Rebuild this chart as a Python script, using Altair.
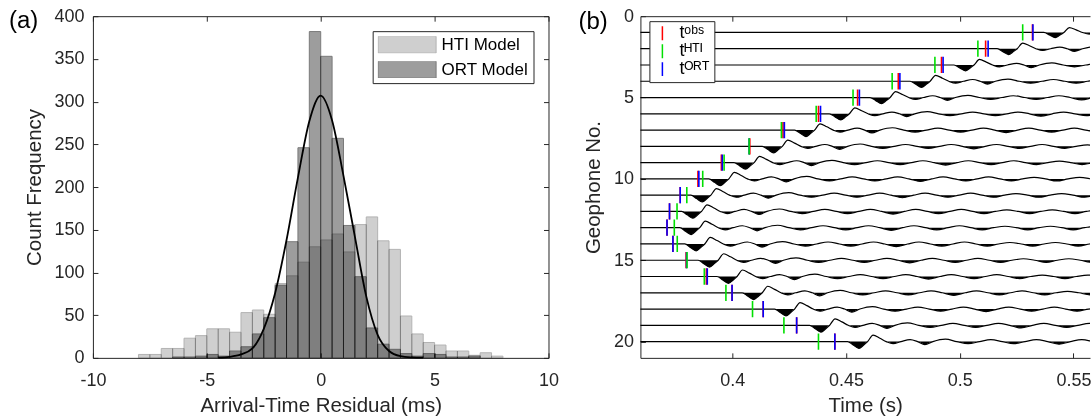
import altair as alt
import pandas as pd

# ---------------- panel (a): histogram data ----------------
bin_start = [-8.5, -8.0, -7.5, -7.0, -6.5, -6.0, -5.5, -5.0, -4.5, -4.0, -3.5,
             -3.0, -2.5, -2.0, -1.5, -1.0, -0.5, 0.0, 0.5, 1.0, 1.5, 2.0, 2.5,
             3.0, 3.5, 4.0, 4.5, 5.0, 5.5, 6.0, 6.5, 7.0, 7.5]
bin_width = 0.5
hti_counts = [0, 4, 4, 11, 11, 23, 26, 34, 34, 30, 53,
              56, 51, 87, 96, 112, 130, 138, 145, 124, 156, 165, 137,
              127, 49, 28, 18, 15, 8, 8, 3, 6, 2]
ort_counts = [0, 0, 0, 0, 1, 1, 2, 4, 2, 8, 13,
              28, 47, 85, 136, 246, 382, 353, 257, 155, 95, 35, 16,
              10, 5, 2, 5, 4, 1, 1, 2, 0, 0]
model_names = ["HTI Model", "ORT Model"]

# fitted normal curve
fit_x = [-4.5, -4.0, -3.5, -3.0, -2.5, -2.0, -1.5, -1.0, -0.5, 0.0,
         0.5, 1.0, 1.5, 2.0, 2.5, 3.0, 3.5, 4.0, 4.5]
fit_y = [0.3, 1.2, 4, 11, 34, 76, 138, 211, 277, 307,
         278, 213, 142, 72, 27, 8, 2, 0.6, 0.2]

# ---------------- panel (b): seismogram data ----------------
geophones = list(range(1, 21))
trough_time = [0.5420, 0.5215, 0.5025, 0.4832, 0.4656, 0.4477, 0.4324, 0.4182,
               0.4058, 0.3947, 0.3868, 0.3827, 0.3819, 0.3841, 0.3900, 0.3983,
               0.4094, 0.4236, 0.4390, 0.4557]
trace_amp = [0.75, 0.85, 0.85, 0.9, 0.9, 0.9, 0.95, 0.95, 0.95, 1.0,
             1.0, 1.0, 1.0, 1.0, 1.0, 1.0, 1.0, 1.0, 1.0, 1.0]
# wavelet shape relative to its trough (time offset s, downward deflection in trace units)
wavelet_dt = [-0.0050, -0.0025, 0.0, 0.0021, 0.0038, 0.0062, 0.0092, 0.0120,
              0.0150, 0.0185, 0.0225, 0.0258, 0.0290, 0.0325, 0.0380, 0.0430,
              0.0480, 0.0530, 0.0580, 0.0630, 0.0680, 0.0730, 0.0780, 0.0830,
              0.0880, 0.0930, 0.0980, 0.1030, 0.1080, 0.1130, 0.1180, 0.1230,
              0.1280, 0.1330, 0.1380, 0.1430, 0.1480, 0.1530, 0.1580, 0.1630,
              0.1680, 0.1730, 0.1780, 0.1830]
wavelet_amp = [0, 0.21, 0.42, 0.21, 0, -0.40, -0.21, 0,
               0.13, 0, -0.12, 0, 0.19, 0, -0.15, 0,
               0.13, 0, -0.12, 0, 0.13, 0, -0.12, 0,
               0.16, 0, -0.12, 0, 0.13, 0, -0.12, 0,
               0.13, 0, -0.09, 0, 0.13, 0, -0.09, 0,
               0.13, 0, -0.09, 0]
t_obs = [0.5320, 0.5114, 0.4920, 0.4730, 0.4551, 0.4379, 0.4223, 0.4077,
         0.3952, 0.3849, 0.3771, 0.3724, 0.3713, 0.3739, 0.3797, 0.3886,
         0.3999, 0.4136, 0.4283, 0.4451]
t_hti = [0.5277, 0.5080, 0.4891, 0.4703, 0.4531, 0.4369, 0.4216, 0.4074,
         0.3964, 0.3870, 0.3800, 0.3757, 0.3745, 0.3758, 0.3801, 0.3877,
         0.3972, 0.4089, 0.4227, 0.4379]
t_ort = [0.5322, 0.5125, 0.4927, 0.4737, 0.4559, 0.4388, 0.4229, 0.4074,
         0.3956, 0.3853, 0.3771, 0.3724, 0.3713, 0.3739, 0.3799, 0.3890,
         0.3999, 0.4136, 0.4283, 0.4451]
pick_labels = ["t\u1d52\u1d47\u02e2", "t\u1d34\u1d40\u1d35", "t\u1d3c\u1d3f\u1d40"]
pick_colors = ["#ff0000", "#00e000", "#0000ff"]
time_domain = [0.3596, 0.5573]
time_ticks = [0.4, 0.45, 0.5, 0.55]
geo_ticks = [0, 5, 10, 15, 20]

# ---------------- build tables ----------------
hist_rows = []
for name, counts in zip(model_names, [hti_counts, ort_counts]):
    for b, c in zip(bin_start, counts):
        if c > 0:
            hist_rows.append({"model": name, "x0": b, "x1": b + bin_width, "count": c})
hist_df = pd.DataFrame(hist_rows)
fit_df = pd.DataFrame({"x": fit_x, "y": fit_y})

trace_rows = []
for g, T, a in zip(geophones, trough_time, trace_amp):
    trace_rows.append({"trace": g, "t": time_domain[0] - 0.002, "y": g, "yf": g, "base": g})
    for dt, w in zip(wavelet_dt, wavelet_amp):
        d = a * w
        trace_rows.append({"trace": g, "t": T + dt, "y": g + d, "yf": g + max(d, 0.0), "base": g})
trace_df = pd.DataFrame(trace_rows)

pick_rows = []
for lab, times in [(pick_labels[0], t_obs), (pick_labels[2], t_ort), (pick_labels[1], t_hti)]:
    for g, t in zip(geophones, times):
        pick_rows.append({"kind": lab, "t": t, "y0": g - 0.5, "y1": g + 0.5})
pick_df = pd.DataFrame(pick_rows)

FONT = "Liberation Sans"
TXT = "#262626"
NEG = alt.ExprRef("-5")
HYPHEN = "replace(datum.label, '\u2212', '-')"

# ---------------- panel (a) ----------------
xa = alt.Scale(domain=[-10, 10], nice=False, zero=False)
ya = alt.Scale(domain=[0, 400], nice=False)

bars = alt.Chart(hist_df).mark_rect(strokeWidth=1, blend="multiply").encode(
    x=alt.X("x0:Q", scale=xa, axis=alt.Axis(values=[-10, -5, 0, 5, 10], title="Arrival-Time Residual (ms)",
                                              labelExpr=HYPHEN, labelFlush=False, tickSize=NEG,
                                              labelPadding=19, titlePadding=6)),
    x2="x1:Q",
    y=alt.Y("count:Q", scale=ya, axis=alt.Axis(values=list(range(0, 401, 50)), title="Count Frequency",
                                                tickSize=NEG, labelPadding=14, titlePadding=9)),
    y2=alt.datum(0),
    fill=alt.Fill("model:N", scale=alt.Scale(domain=model_names, range=["#cfcfcf", "#9d9d9d"]),
                  legend=alt.Legend(orient="none", legendX=280, legendY=15, title=None,
                                    symbolType="M-1,-0.293L1,-0.293L1,0.293L-1,0.293Z",
                                    symbolSize=3364, clipHeight=17, rowPadding=7, padding=5,
                                    labelOffset=5, labelFontSize=17, labelFont=FONT, labelColor="#000",
                                    strokeColor=TXT, fillColor="white", symbolStrokeColor="#8a8a8a",
                                    symbolStrokeWidth=1, symbolOpacity=1)),
    stroke=alt.Stroke("model:N", scale=alt.Scale(domain=model_names, range=["#b3b3b3", "#7a7a7a"]), legend=None),
)

fit = alt.Chart(fit_df).mark_line(color="#000", strokeWidth=1.8, interpolate="monotone").encode(
    x=alt.X("x:Q", scale=xa, axis=alt.Axis(orient="top", values=[-10, -5, 0, 5, 10], labels=False,
                                             title=None, tickSize=NEG)),
    y=alt.Y("y:Q", scale=ya, axis=alt.Axis(orient="right", values=list(range(0, 401, 50)), labels=False,
                                             title=None, tickSize=NEG)),
)

lab_a = alt.Chart(pd.DataFrame({"label": ["(a)"]})).mark_text(
    align="left", baseline="middle", fontSize=24, font=FONT, color="#000"
).encode(text="label:N", x=alt.value(-84), y=alt.value(5))

panel_a = alt.layer(bars, fit, lab_a).resolve_axis(x="independent", y="independent").properties(
    width=456, height=342)

# ---------------- panel (b) ----------------
xt = alt.Scale(domain=time_domain, nice=False, zero=False)
yg = alt.Scale(domain=[0, 21], reverse=True, nice=False, zero=False)
y_axis_b = alt.Axis(values=geo_ticks, title="Geophone No.", tickSize=NEG, labelPadding=12, titlePadding=10)

fills = alt.Chart(trace_df).mark_area(color="#000", interpolate="monotone", clip=True).encode(
    x=alt.X("t:Q", scale=xt, axis=alt.Axis(orient="top", values=time_ticks, labels=False, title=None,
                                             tickSize=NEG)),
    y=alt.Y("yf:Q", scale=yg, axis=y_axis_b),
    y2="base:Q",
    detail="trace:N",
)

lines = alt.Chart(trace_df).mark_line(color="#000", strokeWidth=1.2, interpolate="monotone", clip=True).encode(
    x=alt.X("t:Q", scale=xt, axis=alt.Axis(values=time_ticks, title="Time (s)", format="~g",
                                             labelFlush=False, tickSize=NEG, labelPadding=19, titlePadding=6)),
    y=alt.Y("y:Q", scale=yg, axis=y_axis_b),
    detail="trace:N",
)

picks = alt.Chart(pick_df).mark_rule(strokeWidth=1.6, clip=True).encode(
    x=alt.X("t:Q", scale=xt, axis=None),
    y=alt.Y("y0:Q", scale=yg, axis=y_axis_b),
    y2="y1:Q",
    color=alt.Color("kind:N", scale=alt.Scale(domain=pick_labels, range=pick_colors),
                    legend=alt.Legend(orient="none", legendX=9, legendY=5, title=None,
                                      symbolType="M0,-1L0,1", symbolSize=196, symbolStrokeWidth=1.5,
                                      clipHeight=16, rowPadding=0, padding=4, labelOffset=8,
                                      labelFontSize=18, labelFont=FONT, labelColor="#000",
                                      strokeColor=TXT, fillColor="white")),
)

lab_b = alt.Chart(pd.DataFrame({"label": ["(b)"]})).mark_text(
    align="left", baseline="middle", fontSize=24, font=FONT, color="#000"
).encode(text="label:N", x=alt.value(-62), y=alt.value(6))

panel_b = alt.layer(fills, lines, picks, lab_b).resolve_axis(x="independent").properties(
    width=450, height=342)

chart = alt.hconcat(panel_a, panel_b, spacing=92, bounds="flush").resolve_scale(
    fill="independent", stroke="independent", color="independent"
).properties(
    padding={"left": 9, "top": 7, "right": 0, "bottom": 0}
).configure_axis(
    labelFont=FONT, titleFont=FONT, labelFontSize=18, titleFontSize=20.5,
    labelColor=TXT, titleColor=TXT, titleFontWeight="normal",
    domainColor=TXT, tickColor=TXT, domainWidth=1, tickWidth=1, grid=False
).configure_view(stroke=None)

chart.save("out.html", embed_options={"renderer": "svg", "actions": False})
